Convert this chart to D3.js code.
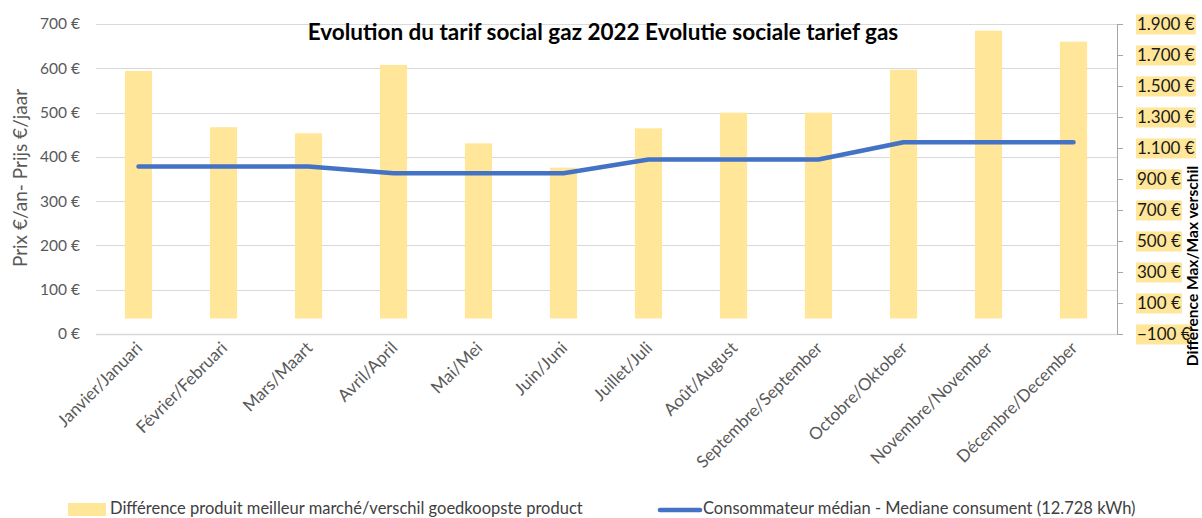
<!DOCTYPE html>
<html>
<head>
<meta charset="utf-8">
<script src="https://cdn.jsdelivr.net/npm/d3@7"></script>
<style>
  body { margin: 0; background: #fff; }
  svg { display: block; font-family: Lato, "Open Sans", sans-serif; }
</style>
</head>
<body>
<svg id="chart" width="1202" height="518"></svg>
<script>
// months (FR/NL)
const months = [
  'Janvier/Januari', 'Février/Februari', 'Mars/Maart', 'Avril/April',
  'Mai/Mei', 'Juin/Juni', 'Juillet/Juli', 'Août/August',
  'Septembre/September', 'Octobre/Oktober', 'Novembre/November', 'Décembre/December'
];
// difference cheapest product (right axis)
const diffValues = [1597, 1234, 1195, 1636, 1130, 973, 1227, 1328, 1328, 1605, 1857, 1786];
// median consumer price (left axis)
const medianValues = [378, 378, 378, 363, 363, 363, 394, 394, 394, 433, 433, 433];
const leftTicks = [0, 100, 200, 300, 400, 500, 600, 700];
const rightTicks = [-100, 100, 300, 500, 700, 900, 1100, 1300, 1500, 1700, 1900];

const title = 'Evolution du tarif social gaz 2022 Evolutie sociale tarief gas';
const leftTitle = 'Prix  €/an- Prijs €/jaar';
const rightTitle = 'Différence Max/Max verschil';
const legendBar = 'Différence produit meilleur marché/verschil goedkoopste product';
const legendLine = 'Consommateur médian - Mediane consument (12.728 kWh)';

const svg = d3.select('#chart');
const plot = { left: 96, right: 1117, top: 24, bottom: 334 };

const x = d3.scaleBand().domain(months).range([plot.left, plot.right - 1])
  .paddingInner(0.68).paddingOuter(0.34);
const yL = d3.scaleLinear().domain([0, 700]).range([plot.bottom, plot.top]);
const yR = d3.scaleLinear().domain([-100, 1900]).range([plot.bottom, plot.top]);

const fmtR = (v) => d3.format(',')(v).replace(/,/g, '.') + ' €';

// grid lines
svg.append('g')
  .selectAll('line')
  .data(leftTicks)
  .join('line')
  .attr('x1', plot.left).attr('x2', plot.right)
  .attr('y1', (d) => Math.round(yL(d)) + 0.5)
  .attr('y2', (d) => Math.round(yL(d)) + 0.5)
  .attr('stroke', '#d9d9d9')
  .attr('stroke-width', (d) => (d === 0 ? 1.5 : 1));

// left axis labels
svg.append('g')
  .selectAll('text')
  .data(leftTicks)
  .join('text')
  .attr('x', 80)
  .attr('y', (d) => yL(d))
  .attr('dy', '0.35em')
  .attr('text-anchor', 'end')
  .attr('fill', '#595959')
  .attr('font-size', 15.5)
  .text((d) => d + ' €');

// right axis
const gR = svg.append('g').attr('transform', `translate(${plot.right},0)`);
gR.call(d3.axisRight(yR).tickValues(rightTicks).tickSize(6).tickFormat(fmtR));
gR.select('.domain').attr('stroke', '#a6a6a6');
gR.selectAll('.tick line').attr('stroke', '#a6a6a6');
gR.selectAll('.tick text').remove();
const rLab = gR.selectAll('.tick').append('g');
rLab.append('text')
  .attr('x', 20)
  .attr('dy', '0.35em')
  .attr('fill', '#1a1a1a')
  .attr('font-size', 17)
  .attr('font-family', 'Lato, sans-serif')
  .text(fmtR);
rLab.each(function () {
  const g = d3.select(this);
  const bb = g.select('text').node().getBBox();
  g.insert('rect', 'text')
    .attr('x', bb.x - 1).attr('y', bb.y + 1)
    .attr('width', bb.width + 2).attr('height', bb.height - 1)
    .attr('fill', '#ffe699');
});

// right axis title
svg.append('text')
  .attr('transform', 'translate(1198,266) rotate(-90)')
  .attr('text-anchor', 'middle')
  .attr('font-weight', 'bold')
  .attr('fill', '#000')
  .attr('font-size', 15.5)
  .text(rightTitle);

// bars (right axis)
svg.append('g')
  .selectAll('rect')
  .data(diffValues)
  .join('rect')
  .attr('x', (d, i) => x(months[i]))
  .attr('width', x.bandwidth())
  .attr('y', (d) => yR(d))
  .attr('height', (d) => yR(0) - yR(d))
  .attr('fill', '#ffe699');

// line (left axis)
const line = d3.line()
  .x((d, i) => x(months[i]) + x.bandwidth() / 2)
  .y((d) => yL(d));
svg.append('path')
  .datum(medianValues)
  .attr('d', line)
  .attr('fill', 'none')
  .attr('stroke', '#4472c4')
  .attr('stroke-width', 4.5)
  .attr('stroke-linecap', 'round')
  .attr('stroke-linejoin', 'round');

// x labels
svg.append('g')
  .selectAll('text')
  .data(months)
  .join('text')
  .attr('transform', (d) => `translate(${x(d) + x.bandwidth() / 2 + 5},349) rotate(-45)`)
  .attr('text-anchor', 'end')
  .attr('fill', '#595959')
  .attr('font-size', 17)
  .text((d) => d);

// title
svg.append('text')
  .attr('x', 603).attr('y', 40)
  .attr('text-anchor', 'middle')
  .attr('font-weight', 'bold')
  .attr('font-size', 22.5)
  .attr('fill', '#000')
  .text(title);

// left axis title
svg.append('text')
  .attr('transform', 'translate(27,178) rotate(-90)')
  .attr('text-anchor', 'middle')
  .attr('fill', '#595959')
  .attr('font-size', 19)
  .text(leftTitle);

// legend
const lg = svg.append('g').attr('font-size', 16.5).attr('fill', '#404040');
lg.append('rect').attr('x', 68).attr('y', 503).attr('width', 38).attr('height', 13).attr('fill', '#ffe699');
lg.append('text').attr('x', 110).attr('y', 514).text(legendBar);
lg.append('line').attr('x1', 660).attr('x2', 700).attr('y1', 510).attr('y2', 510)
  .attr('stroke', '#4472c4').attr('stroke-width', 4.5).attr('stroke-linecap', 'round');
lg.append('text').attr('x', 703).attr('y', 514).text(legendLine);
</script>
</body>
</html>
